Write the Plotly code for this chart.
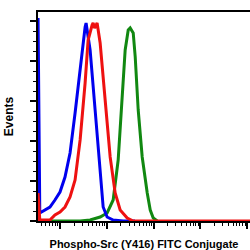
import plotly.graph_objects as go

# Fluorescence intensity (log scale) and event counts
blue_x = [3.4, 3.4, 3.7, 4.8, 6.1, 7.8, 10, 12.8, 16.4, 21, 26.9, 34.4, 36.1, 44, 56.3, 72.1, 83.6, 101.6, 136.8, 224, 400]
blue_y = [0, 203, 8, 11, 14, 21, 29, 44, 68, 108, 154, 194, 198, 171, 111, 44, 14, 4, 1, 0, 0]

red_x = [3.4, 3.4, 3.7, 6.1, 7.8, 10, 12.8, 16.4, 21, 26.9, 34.4, 39.9, 48.5, 51, 55, 62.1, 72.1, 92.2, 118, 151, 193, 273, 367, 120000]
red_y = [0, 28, 1, 1, 6, 9, 14, 24, 41, 81, 138, 181, 196, 198, 193, 198, 178, 121, 64, 28, 11, 3, 0, 0]

green_x = [3.4, 26.9, 44, 72.1, 101.6, 136.8, 175, 213, 247, 287, 316, 367, 405, 469, 571, 731, 848, 983, 1197]
green_y = [0, 0, 1, 4, 8, 21, 61, 121, 171, 191, 193, 188, 164, 111, 64, 28, 11, 3, 0]

x_title = "Phospho-Src (Y416) FITC Conjugate"
y_title = "Events"

fig = go.Figure()
fig.add_trace(go.Scatter(x=green_x, y=green_y, mode="lines",
                         line=dict(color="#118811", width=3), showlegend=False))
fig.add_trace(go.Scatter(x=blue_x, y=blue_y, mode="lines",
                         line=dict(color="#0000ee", width=3), showlegend=False))
fig.add_trace(go.Scatter(x=red_x, y=red_y, mode="lines",
                         line=dict(color="#ee1111", width=3), showlegend=False))

fig.update_layout(
    width=250, height=250,
    margin=dict(l=38, r=0, t=12, b=29),
    paper_bgcolor="white", plot_bgcolor="white",
    font=dict(family="Liberation Sans, Arial, sans-serif", color="black"),
)
fig.update_xaxes(
    type="log", range=[0.53, 5.06],
    showgrid=False, zeroline=False,
    showline=True, linecolor="black", linewidth=1.5, mirror=True,
    ticks="outside", ticklen=6, tickwidth=1.5, tickcolor="black",
    dtick=1, showticklabels=False,
    minor=dict(ticks="outside", ticklen=3, tickwidth=1, tickcolor="black", dtick="D1"),
    title=dict(text=x_title, font=dict(size=11, weight="bold"), standoff=16),
    automargin=False,
)
fig.update_yaxes(
    range=[0, 209],
    showgrid=False, zeroline=False,
    showline=True, linecolor="black", linewidth=1.5,
    ticks="outside", ticklen=6, tickwidth=1.5, tickcolor="black",
    tick0=0, dtick=40, showticklabels=False,
    minor=dict(ticks="outside", ticklen=3, tickwidth=1, tickcolor="black", dtick=10),
    title=dict(text=y_title, font=dict(size=12, weight="bold"), standoff=14),
    automargin=False,
)

fig.write_html("out.html")
